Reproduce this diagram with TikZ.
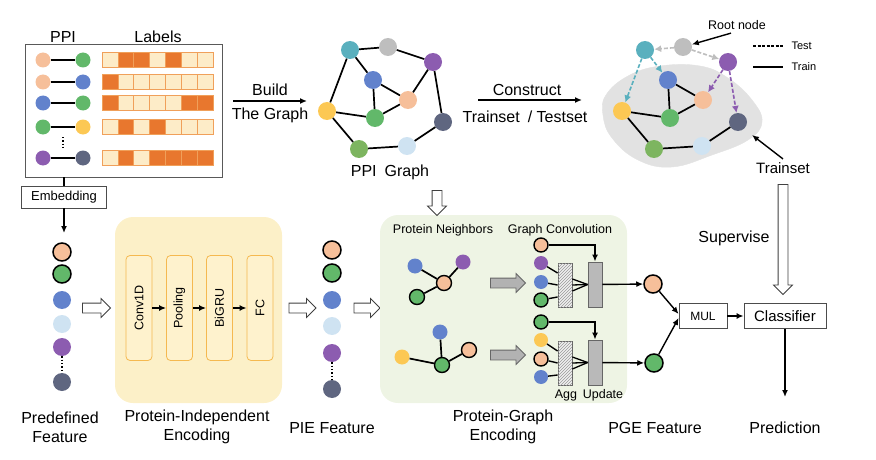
\documentclass[tikz,border=0pt]{standalone}
\usepackage{fontspec}
\setmainfont{Liberation Sans}
\usetikzlibrary{shapes.arrows,arrows.meta,positioning,calc,patterns}
\definecolor{cpeach}{RGB}{246,191,154}
\definecolor{cgreen}{RGB}{98,184,106}
\definecolor{cblue}{RGB}{98,130,204}
\definecolor{cyellow}{RGB}{252,200,84}
\definecolor{cpurple}{RGB}{140,92,176}
\definecolor{cslate}{RGB}{95,102,128}
\definecolor{cteal}{RGB}{90,176,190}
\definecolor{cgray}{RGB}{190,190,190}
\definecolor{clight}{RGB}{207,227,242}
\definecolor{colive}{RGB}{125,181,96}
\definecolor{cell0}{RGB}{253,236,200}
\definecolor{cell1}{RGB}{232,119,46}
\definecolor{cellline}{RGB}{240,160,90}
\definecolor{pieyel}{RGB}{252,240,200}
\definecolor{layerline}{RGB}{245,185,80}
\definecolor{layerfill}{RGB}{254,242,205}
\definecolor{pgegrn}{RGB}{238,244,228}
\definecolor{blobgray}{RGB}{226,226,226}

\begin{document}
\begin{tikzpicture}[x=1pt,y=-1pt,
  edge/.style={line width=1.7pt},
  arr/.style={line width=1.4pt,-{Latex[length=7pt,width=6pt]}},
  testarr/.style={line width=1.6pt,dash pattern=on 4pt off 2pt,-{Latex[length=7pt,width=7pt]}},
  dot/.style={circle,inner sep=0pt,minimum size=15pt},
  odot/.style={dot,draw=black,line width=1.4pt},
  gdot/.style={circle,inner sep=0pt,minimum size=18pt},
  ogdot/.style={gdot,draw=black,line width=1.5pt},
  lbl/.style={font=\fontsize{16}{19}\selectfont,align=center},
  small/.style={font=\fontsize{12.5}{15}\selectfont},
  plainbox/.style={draw=black!70,line width=0.8pt,fill=white,inner sep=0pt},
  layerbox/.style={draw=layerline,fill=layerfill,line width=0.8pt,rounded corners=4pt,
    minimum width=105pt,minimum height=26pt,inner sep=0pt,small},
  hollow/.style={single arrow,draw=black!75,fill=white,line width=0.8pt,inner xsep=0pt,
    inner ysep=4.5pt,single arrow head extend=4.5pt},
  blockarr/.style={hollow,fill=gray!60,draw=black!60},
  aggbox/.style={draw=black!60,line width=0.8pt,fill=gray!12,minimum width=14pt,
    minimum height=44pt,inner sep=0pt,postaction={pattern=north east lines,pattern color=gray!80}},
  updbox/.style={draw=black!60,line width=0.8pt,fill=gray!55,minimum width=14pt,
    minimum height=45pt,inner sep=0pt}]
\useasboundingbox (0,0) rectangle (876,460);

% ---- PPI pairs and labels
\node[lbl] (ppilab) at (63,37) {PPI};
\node[lbl] (lablab) at (158,37) {Labels};
\node[draw=black!65,line width=0.8pt,minimum width=197pt,minimum height=133pt,inner sep=0pt] (ppibox) at (123.5,110.5) {};
\foreach \yy/\ca/\cb/\pat [count=\i] in {
  60/cpeach/cgreen/{0,1,1,0,1,0,0},
  82/cpeach/cblue/{1,0,0,0,0,0,0},
  103/cblue/cgreen/{1,0,0,0,0,1,1},
  127/cgreen/cyellow/{0,1,0,1,0,0,0},
  158/cpurple/cslate/{0,1,0,1,1,1,1}}{
  \node[dot,fill=\ca] (pa\i) at (43,\yy) {};
  \node[dot,fill=\cb] (pb\i) at (83,\yy) {};
  \draw[edge] (pa\i) -- (pb\i);
  \foreach \b [count=\k] in \pat
    \draw[cellline,line width=0.7pt,fill=cell\b] ({102+(\k-1)*15.86},\yy-7.5) rectangle ++(15.86,15);
}
\draw[dotted,line width=1.3pt] (63,137) -- (63,150);

% ---- embedding and predefined feature
\node[plainbox,font=\fontsize{13}{15}\selectfont,minimum width=85pt,minimum height=22pt] (emb) at (64,197) {Embedding};
\draw[edge,line width=1.4pt] (ppibox.south -| emb.north) -- (emb.north);
\coordinate (pftop) at (64,233);
\draw[arr] (emb) -- (pftop);
\foreach \yy/\c/\st [count=\i] in {252/cpeach/ogdot,274/cgreen/ogdot,300/cblue/gdot,
  324/clight/gdot,347/cpurple/gdot,382/cslate/gdot}
  \node[\st,fill=\c] (pf\i) at (62,\yy) {};
\draw[dotted,line width=1.4pt] (pf5) -- (pf6);
\node[lbl] (pflab) at (60,427) {Predefined\\Feature};
\node[hollow,minimum height=28pt] (h1) at (94,308) {};

% ---- protein-independent encoding
\node[fill=pieyel,rounded corners=18pt,minimum width=167pt,minimum height=186pt] (pie) at (198.5,310) {};
\foreach \lab/\x [count=\i] in {Conv1D/139,Pooling/179.5,BiGRU/219.5,FC/260}
  \node[layerbox,rotate=90] (L\i) at (\x,308) {\lab};
\foreach \a/\b in {1/2,2/3,3/4}
  \draw[arr] (L\a) -- (L\b);
\node[lbl] (pielab) at (197,427) {Protein-Independent\\Encoding};
\node[hollow,minimum height=27pt] (h2) at (300,308) {};

% ---- PIE feature
\foreach \yy/\c/\st [count=\i] in {250/cpeach/ogdot,273/cgreen/ogdot,300/cblue/gdot,
  326/clight/gdot,353/cpurple/gdot,389/cslate/gdot}
  \node[\st,fill=\c] (pe\i) at (332,\yy) {};
\draw[dotted,line width=1.4pt] (pe5) -- (pe6);
\node[lbl] (pelab) at (332,428) {PIE Feature};
\node[hollow,minimum height=26pt] (h3) at (364.5,308) {};

% ---- protein-graph encoding
\node[fill=pgegrn,rounded corners=18pt,minimum width=247pt,minimum height=188pt] (pge) at (503.5,309) {};
\node[small] (nblab) at (443,230) {Protein Neighbors};
\node[small] (gclab) at (560,230) {Graph Convolution};
\foreach \n/\x/\y/\c/\st in {1/415/266/cblue/dot,2/463/262/cpurple/dot,3/444/283/cpeach/odot,4/417/297/cgreen/odot}
  \node[\st,fill=\c] (na\n) at (\x,\y) {};
\foreach \n/\x/\y/\c/\st in {1/440/332/cblue/dot,2/402/357/cyellow/dot,3/442/365/cgreen/odot,4/469/350/cpeach/odot}
  \node[\st,fill=\c] (nb\n) at (\x,\y) {};
\foreach \a in {1,2,4} \draw[edge] (na\a) -- (na3);
\foreach \a in {1,2,4} \draw[edge] (nb\a) -- (nb3);
\node[blockarr,minimum height=35pt] (ba) at (505.5,283) {};
\node[blockarr,minimum height=35pt] (bb) at (505.5,355) {};

\foreach \n/\y/\c/\st in {1/245/cpeach/odot,2/263/cpurple/dot,3/282/cblue/dot,4/300/cgreen/odot}
  \node[\st,fill=\c,minimum size=14pt] (ga\n) at (541,\y) {};
\foreach \n/\y/\c/\st in {1/322/cgreen/odot,2/340/cyellow/dot,3/359/cpeach/odot,4/377/cblue/dot}
  \node[\st,fill=\c,minimum size=14pt] (gb\n) at (541,\y) {};
\node[aggbox] (aggA) at (565,285) {};
\node[updbox] (updA) at (595,284.5) {};
\node[aggbox] (aggB) at (565,363) {};
\node[updbox] (updB) at (595,362.5) {};
\foreach \g in {A,B}
  \foreach \s in {6,0,-6}
    \draw[line width=1.3pt] ([yshift=\s pt]agg\g.east) -- (upd\g.west);
\draw[arr] (ga1) -| (updA);
\draw[arr] (gb1) -| (updB);
\draw[line width=1.4pt] (ga2) -- ([yshift=12pt]aggA.west);
\draw[line width=1.4pt] (ga3) -- (aggA.west);
\draw[line width=1.4pt] (ga4) -- ([yshift=-12pt]aggA.west);
\draw[line width=1.4pt] (gb2) -- ([yshift=12pt]aggB.west);
\draw[line width=1.4pt] (gb3) -- (aggB.west);
\draw[line width=1.4pt] (gb4) -- ([yshift=-12pt]aggB.west);
\node[small] (agglab) at (566,395) {Agg};
\node[small] (updlab) at (603,395) {Update};
\node[lbl] (pgelab) at (503,427) {Protein-Graph\\Encoding};

% ---- PGE feature, MUL, classifier
\node[ogdot,fill=cpeach] (qa) at (653,284) {};
\node[ogdot,fill=cgreen] (qb) at (654,363) {};
\draw[arr] (updA) -- (qa);
\draw[arr] (updB) -- (qb);
\node[lbl] (qlab) at (655,428) {PGE Feature};
\node[plainbox,font=\fontsize{12}{14}\selectfont,minimum width=48pt,minimum height=25pt] (mul) at (703,316) {MUL};
\node[plainbox,font=\fontsize{15}{18}\selectfont,minimum width=82pt,minimum height=25pt] (cls) at (785,316) {Classifier};
\draw[arr] (qa) -- ([yshift=2pt]mul.west);
\draw[arr] (qb) -- ([yshift=-2pt]mul.west);
\draw[arr] (mul) -- (cls);
\coordinate (predtop) at (785,397);
\draw[arr] (cls) -- (predtop);
\node[lbl] (predlab) at (785,428) {Prediction};
\node[lbl] (suplab) at (734,238) {Supervise};

% ---- PPI graph and train/test graph
\draw[blobgray,fill=blobgray] plot[smooth cycle,tension=0.7] coordinates {
  (606,95) (628,76) (660,66) (700,66) (728,78) (752,100) (762,122) (748,140)
  (712,155) (672,167) (638,160) (612,138) (603,115)};
\foreach \n/\x/\y/\c in {tl/350/50/cteal,gy/388/47/cgray,pu/433/62/cpurple,bl/373/80/cblue,
  pk/408/100/cpeach,ye/327/111/cyellow,gn/375/118/cgreen,sl/443/122/cslate,
  ol/359/149/colive,lb/407/146/clight}{
  \node[gdot,fill=\c] (p\n) at (\x,\y) {};
  \node[gdot,fill=\c] (t\n) at (\x+295,\y) {};
}
\foreach \a/\b in {tl/gy,gy/pu,tl/ye,tl/bl,pu/pk,pu/sl}
  \draw[edge] (p\a) -- (p\b);
\foreach \a/\b in {bl/pk,bl/gn,pk/gn,ye/gn,ye/ol,ol/lb,lb/sl}{
  \draw[edge] (p\a) -- (p\b);
  \draw[edge] (t\a) -- (t\b);
}
\draw[testarr,cgray] (tgy) -- (ttl);
\draw[testarr,cgray] (tgy) -- (tpu);
\draw[testarr,cteal] (ttl) -- (tye);
\draw[testarr,cteal] (ttl) -- (tbl);
\draw[testarr,cpurple] (tpu) -- (tpk);
\draw[testarr,cpurple] (tpu) -- (tsl);
\node[lbl] (pgraphlab) at (390,172) {PPI\enspace Graph};
\node[hollow,minimum height=25pt,rotate=270] (h4) at (437,200.5) {};

\coordinate (b1) at (233,101);
\coordinate (b2) at (307,101);
\draw[arr] (b1) -- (b2);
\node[lbl] (buildlab) at (270,90) {Build};
\node[lbl] (thegraph) at (270,115) {The Graph};
\coordinate (c1) at (478,100);
\coordinate (c2) at (582,100);
\draw[arr] (c1) -- (c2);
\node[lbl] (conlab) at (527,90) {Construct};
\node[lbl] (tslab) at (525,117) {Trainset\enspace/ Testset};

\node[small] (root) at (737,25) {Root node};
\draw[arr] ([xshift=-6pt]root.south) -- (tgy);
\coordinate (lt1) at (753,46);
\coordinate (lt2) at (783,46);
\coordinate (lr1) at (753,67);
\coordinate (lr2) at (783,67);
\draw[line width=1.3pt,dash pattern=on 3pt off 1.5pt] (lt1) -- (lt2);
\draw[line width=1.3pt] (lr1) -- (lr2);
\node[font=\fontsize{11}{13}\selectfont,anchor=west] (testlab) at (788,46) {Test};
\node[font=\fontsize{11}{13}\selectfont,anchor=west] (trainlab) at (788,67) {Train};
\node[font=\fontsize{15}{18}\selectfont] (trs) at (783,168) {Trainset};
\coordinate (blobpt) at (752,135);
\draw[arr] (trs.north) -- (blobpt);
\node[hollow,minimum height=110pt,rotate=270] (h5) at (783,237) {};
\end{tikzpicture}
\end{document}
